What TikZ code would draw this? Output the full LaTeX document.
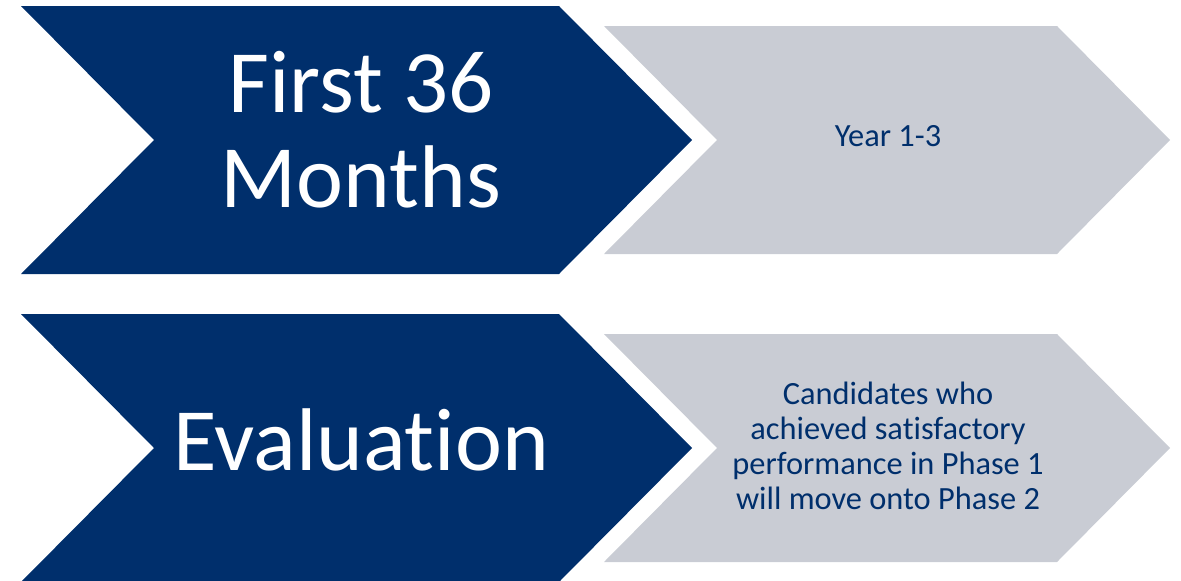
\documentclass[tikz,border=0pt]{standalone}
\usepackage{fontspec}
\setmainfont[Ligatures=NoCommon]{Carlito}

\definecolor{navy}{RGB}{0,47,108}
\definecolor{steel}{RGB}{201,204,212}

\tikzset{
	darkchev/.style={fill=navy},
	lightchev/.style={fill=steel},
	bigtext/.style={text=white, align=center, font=\fontsize{89}{95}\selectfont},
	smalltext/.style={text=navy, align=center, font=\fontsize{32.4}{35}\selectfont}
}

\begin{document}
\begin{tikzpicture}[x=1pt,y=-1pt]
			\useasboundingbox (0,0) rectangle (1181,581);
			
			% Draw the chevrons for both rows
			\foreach \c in {140,448} {
			\fill[darkchev] (21,{\c-134}) -- (559,{\c-134}) -- (692,\c) -- (559,{\c+134}) -- (21,{\c+134}) -- (154,\c) -- cycle;
			\fill[lightchev] (604,{\c-114}) -- (1057,{\c-114}) -- (1170,\c) -- (1057,{\c+114}) -- (604,{\c+114}) -- (717,\c) -- cycle;
			}
			
			% Titles on the dark side
			\node[bigtext] (first) at (361,130) {First 36\\Months};
			\node[bigtext] (eval) at (361,440) {Evaluation};
			
			% Notes on the light side
			\node[smalltext] (years) at (888,136) {Year 1-3};
			\node[smalltext] (moveon) at (888,446) {Candidates who\\achieved satisfactory\\performance in Phase 1\\will move onto Phase 2};
		\end{tikzpicture}
\end{document}
